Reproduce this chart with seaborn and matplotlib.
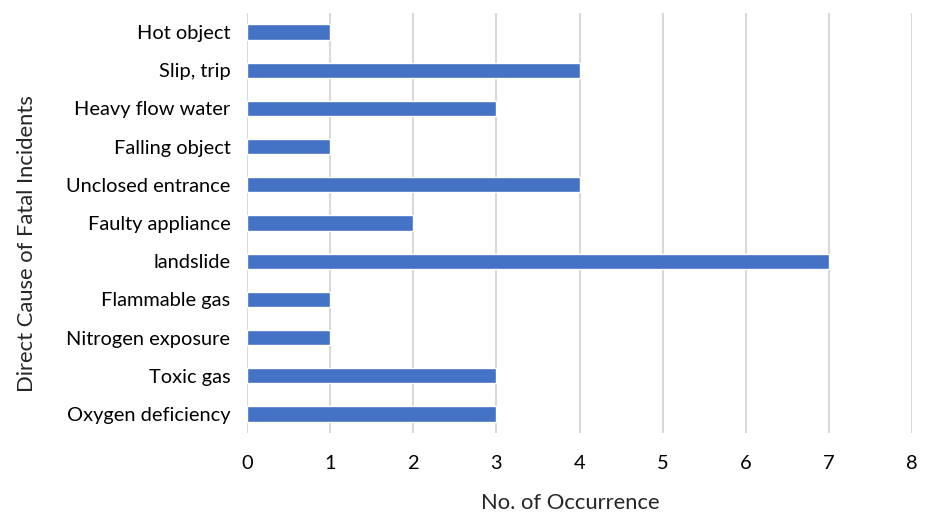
import matplotlib
matplotlib.use("Agg")
import matplotlib.pyplot as plt
import seaborn as sns
import pandas as pd

categories = ["Hot object", "Slip, trip", "Heavy flow water", "Falling object",
              "Unclosed entrance", "Faulty appliance", "landslide", "Flammable gas",
              "Nitrogen exposure", "Toxic gas", "Oxygen deficiency"]
counts = [1, 4, 3, 1, 4, 2, 7, 1, 1, 3, 3]
xticks = [0, 1, 2, 3, 4, 5, 6, 7, 8]

sns.set_theme(style="white")
plt.rcParams['font.family'] = ['Lato', 'DejaVu Sans']

df = pd.DataFrame({"cause": categories, "count": counts})

fig = plt.figure(figsize=(9.27, 5.12), dpi=100)
ax = fig.add_axes([0.2665, 0.1543, 0.7173, 0.8203])
sns.barplot(data=df, x="count", y="cause", orient="h", color="#4472C4",
            width=0.4, saturation=1, ax=ax, order=categories)
ax.set_xlim(0, 8)
ax.set_ylim(len(categories) - 0.5, -0.5)
ax.set_xticks(xticks)
ax.set_xticklabels([str(t) for t in xticks])
ax.xaxis.grid(True, color="#d9d9d9", linewidth=1.5)
ax.set_axisbelow(True)
for s in ax.spines.values():
    s.set_visible(False)
ax.tick_params(axis="both", length=0, labelsize=14.4, colors="black")
ax.tick_params(axis="x", pad=16)
ax.tick_params(axis="y", pad=12)
ax.set_xlabel("No. of Occurrence", fontsize=15.8)
ax.set_ylabel("Direct Cause of Fatal Incidents", fontsize=15.8)
ax.xaxis.set_label_coords(0.486, -0.142)
ax.yaxis.set_label_coords(-0.316, 0.45)
fig.savefig("out.png", dpi=100)
